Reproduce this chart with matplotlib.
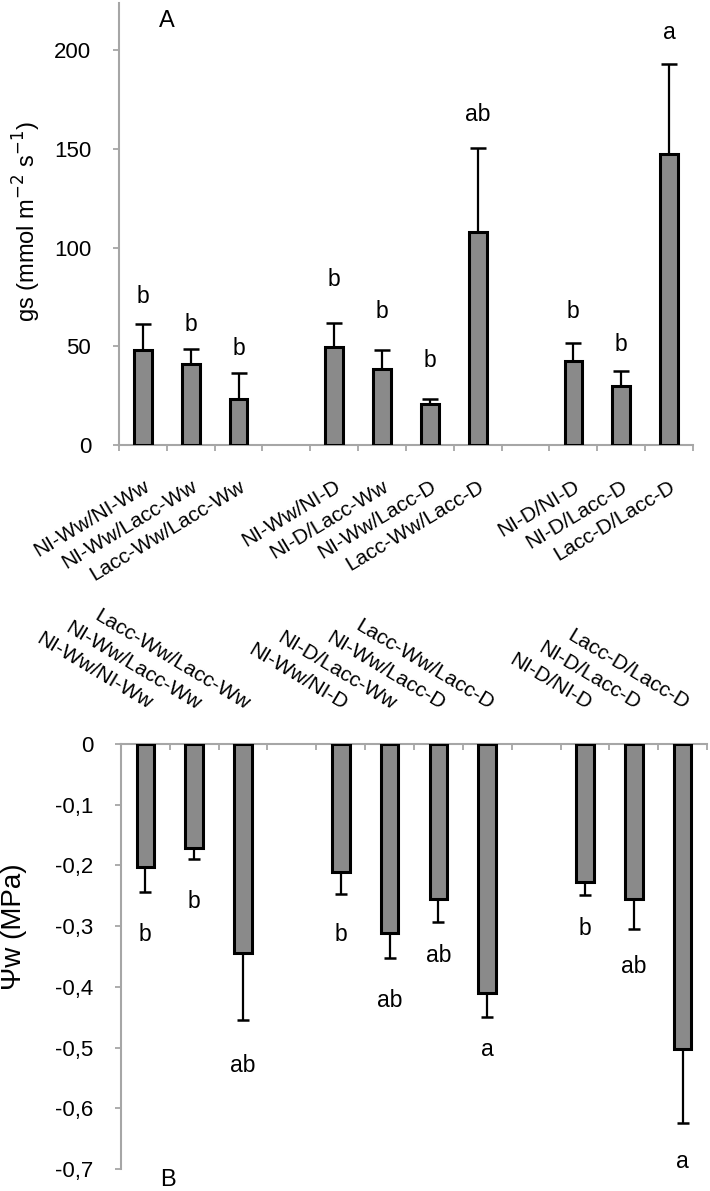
import numpy as np
import matplotlib.pyplot as plt
from matplotlib.ticker import FuncFormatter

plt.rcParams['font.family'] = ['Liberation Sans', 'DejaVu Sans']
plt.rcParams['axes.unicode_minus'] = False

labels = ["NI-Ww/NI-Ww", "NI-Ww/Lacc-Ww", "Lacc-Ww/Lacc-Ww",
          "NI-Ww/NI-D", "NI-D/Lacc-Ww", "NI-Ww/Lacc-D", "Lacc-Ww/Lacc-D",
          "NI-D/NI-D", "NI-D/Lacc-D", "Lacc-D/Lacc-D"]
slots = [0, 1, 2, 4, 5, 6, 7, 9, 10, 11]

# panel A: stomatal conductance
gs = [48.2, 41.0, 23.4, 49.4, 38.6, 20.6, 108.0, 42.3, 30.1, 147.6]
gs_err = [13.2, 7.6, 13.0, 12.4, 9.6, 2.6, 42.6, 9.3, 7.5, 45.6]
gs_letters = ["b", "b", "b", "b", "b", "b", "ab", "b", "b", "a"]
gs_letter_y = [75, 61, 48.7, 84, 67.5, 43, 167.5, 67.5, 51, 209]

# panel B: water potential
psi = [-0.203, -0.171, -0.344, -0.211, -0.311, -0.255, -0.410, -0.228, -0.255, -0.503]
psi_err = [0.041, 0.018, 0.110, 0.036, 0.042, 0.039, 0.039, 0.021, 0.049, 0.121]
psi_letters = ["b", "b", "ab", "b", "ab", "ab", "a", "b", "ab", "a"]
psi_letter_y = [-0.314, -0.260, -0.529, -0.314, -0.422, -0.348, -0.504, -0.304, -0.366, -0.688]

bar_color = '#8a8a8a'
axis_grey = '#a6a6a6'
n_slots = 12
tick_labels = [''] * n_slots
for s, lab in zip(slots, labels):
    tick_labels[s] = lab

fig = plt.figure(figsize=(7.1, 11.91), dpi=100)
ax1 = fig.add_axes([0.1676, 0.6264, 0.8084, 0.3711])
ax2 = fig.add_axes([0.1704, 0.0185, 0.8254, 0.3568])

# ---- panel A
ax1.bar(slots, gs, width=0.37, color=bar_color, edgecolor='black', linewidth=2.2, zorder=3)
ax1.errorbar(slots, gs, yerr=[np.zeros(len(gs)), gs_err], fmt='none', ecolor='black',
             elinewidth=1.6, capsize=6, capthick=1.8, zorder=2)
for s, t, y in zip(slots, gs_letters, gs_letter_y):
    ax1.text(s, y, t, ha='center', va='center', fontsize=16.5)
ax1.set_xlim(-0.5, n_slots - 0.5)
ax1.set_ylim(0, 224)
ax1.set_yticks([0, 50, 100, 150, 200])
ax1.set_xticks(np.arange(n_slots + 1) - 0.5, minor=False)
ax1.set_xticklabels([])
ax1.set_xticks(np.arange(n_slots), minor=True)
ax1.set_xticklabels(tick_labels, minor=True, rotation=31, ha='right', va='top',
                    rotation_mode='anchor', fontsize=15)
ax1.tick_params(axis='x', which='minor', length=0, pad=23)
ax1.tick_params(axis='x', which='major', direction='out', length=4, color=axis_grey, width=1.3)
ax1.tick_params(axis='y', direction='out', length=4, color=axis_grey, width=1.3,
                labelsize=16, pad=16)
for side in ['top', 'right']:
    ax1.spines[side].set_visible(False)
for side in ['left', 'bottom']:
    ax1.spines[side].set_color(axis_grey)
    ax1.spines[side].set_linewidth(1.5)
ax1.set_ylabel('gs (mmol m$^{-2}$ s$^{-1}$)', fontsize=17)
ax1.yaxis.set_label_coords(-0.132, 0.506)
ax1.text(0.083, 0.96, 'A', transform=ax1.transAxes, ha='center', va='center', fontsize=17)

# ---- panel B
ax2.bar(slots, psi, width=0.36, color=bar_color, edgecolor='black', linewidth=2.2, zorder=3)
ax2.errorbar(slots, psi, yerr=[psi_err, np.zeros(len(psi))], fmt='none', ecolor='black',
             elinewidth=1.6, capsize=4, capthick=1.8, zorder=2)
for s, t, y in zip(slots, psi_letters, psi_letter_y):
    ax2.text(s, y, t, ha='center', va='center', fontsize=16.5)
ax2.set_xlim(-0.5, n_slots - 0.5)
ax2.set_ylim(-0.7, 0)
ax2.set_yticks(np.arange(0, -0.75, -0.1))
ax2.yaxis.set_major_formatter(FuncFormatter(
    lambda v, p: '0' if abs(v) < 1e-9 else f'{v:.1f}'.replace('.', ',')))
ax2.xaxis.tick_top()
ax2.set_xticks(np.arange(n_slots + 1) - 0.5, minor=False)
ax2.set_xticklabels([])
ax2.set_xticks(np.arange(n_slots), minor=True)
ax2.set_xticklabels(tick_labels, minor=True, rotation=-31, ha='right', va='bottom',
                    rotation_mode='anchor', fontsize=15)
ax2.tick_params(axis='x', which='minor', top=True, bottom=False, length=0, pad=22)
ax2.tick_params(axis='x', which='major', top=True, bottom=False, direction='in',
                length=4, color=axis_grey, width=1.3)
ax2.tick_params(axis='y', direction='out', length=4, color=axis_grey, width=1.3,
                labelsize=16, pad=16)
for side in ['bottom', 'right']:
    ax2.spines[side].set_visible(False)
for side in ['left', 'top']:
    ax2.spines[side].set_color(axis_grey)
    ax2.spines[side].set_linewidth(1.5)
ax2.set_ylabel('Ψw (MPa)', fontsize=20)
ax2.yaxis.set_label_coords(-0.160, 0.569)
ax2.text(0.08, -0.027, 'B', transform=ax2.transAxes, ha='center', va='center', fontsize=17)

fig.savefig('out.png', dpi=100)
